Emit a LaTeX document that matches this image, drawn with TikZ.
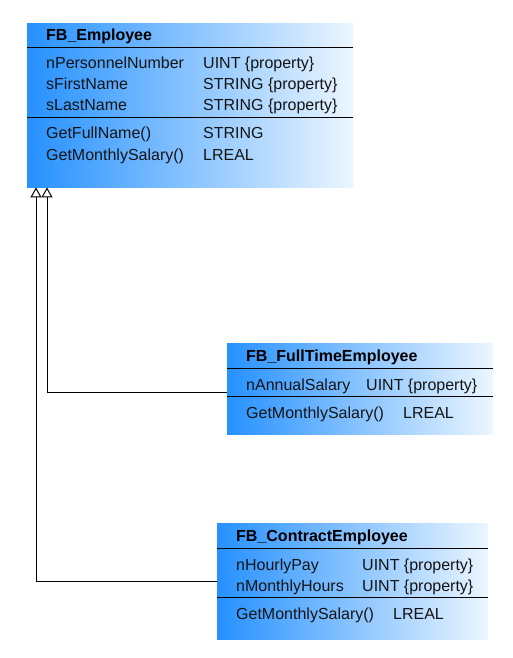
\documentclass[tikz,border=0pt]{standalone}
\usepackage{fontspec}
\setmainfont{Liberation Sans}
\usepackage{tikz}
\usetikzlibrary{positioning,calc,arrows.meta}
\definecolor{clsBlue}{RGB}{38,145,255}
\definecolor{clsLight}{RGB}{236,246,255}
\definecolor{txtColor}{RGB}{20,20,20}
\tikzset{
    classbox/.style={
        rectangle,
        anchor=north west,
        inner sep=0pt,
        left color=clsBlue,
        right color=clsLight,
        draw=none
    },
    member/.style={
        anchor=base west,
        inner sep=0pt,
        text=txtColor,
        font=\fontsize{16}{19}\selectfont
    },
    title/.style={
        member,
        font=\fontsize{16}{19}\selectfont\bfseries,
        text=black
    },
    sepline/.style={
        line width=1pt
    },
    inherit/.style={
        line width=1pt,
        -{Triangle[open, width=11pt, length=10pt]}
    }
}

\begin{document}
\begin{tikzpicture}[x=1pt, y=-1pt]
    \useasboundingbox (0,0) rectangle (512,658);

    % FB_Employee
    \node[classbox, minimum width=326pt, minimum height=164pt] (emp) at (27,23) {};
    \node[title] (empT) at (46,41) {FB\_Employee};
    \draw[sepline] (emp.west |- 0,48) -- (emp.east |- 0,48);
    \node[member] (empA1) at (46,69) {nPersonnelNumber};
    \node[member] (empA1t) at (203,69) {UINT \{property\}};
    \node[member] (empA2) at (46,90) {sFirstName};
    \node[member] (empA2t) at (203,90) {STRING \{property\}};
    \node[member] (empA3) at (46,111) {sLastName};
    \node[member] (empA3t) at (203,111) {STRING \{property\}};
    \draw[sepline] (emp.west |- 0,118) -- (emp.east |- 0,118);
    \node[member] (empM1) at (46,139) {GetFullName()};
    \node[member] (empM1t) at (203,139) {STRING};
    \node[member] (empM2) at (46,160) {GetMonthlySalary()};
    \node[member] (empM2t) at (203,160) {LREAL};

    % FB_FullTimeEmployee
    \node[classbox, minimum width=266pt, minimum height=91pt] (full) at (227,343) {};
    \node[title] (fullT) at (246,361) {FB\_FullTimeEmployee};
    \draw[sepline] (full.west |- 0,368) -- (full.east |- 0,368);
    \node[member] (fullA1) at (246,390) {nAnnualSalary};
    \node[member] (fullA1t) at (366,390) {UINT \{property\}};
    \draw[sepline] (full.west |- 0,396) -- (full.east |- 0,396);
    \node[member] (fullM1) at (246,418) {GetMonthlySalary()};
    \node[member] (fullM1t) at (403,418) {LREAL};

    % FB_ContractEmployee
    \node[classbox, minimum width=271pt, minimum height=116pt] (contr) at (217,523) {};
    \node[title] (contrT) at (236,541) {FB\_ContractEmployee};
    \draw[sepline] (contr.west |- 0,548) -- (contr.east |- 0,548);
    \node[member] (contrA1) at (236,570) {nHourlyPay};
    \node[member] (contrA1t) at (362,570) {UINT \{property\}};
    \node[member] (contrA2) at (236,591) {nMonthlyHours};
    \node[member] (contrA2t) at (362,591) {UINT \{property\}};
    \draw[sepline] (contr.west |- 0,597) -- (contr.east |- 0,597);
    \node[member] (contrM1) at (236,619) {GetMonthlySalary()};
    \node[member] (contrM1t) at (393,619) {LREAL};

    % Vererbung
    \draw[inherit] (contr.west) -| ([xshift=9pt]emp.south west);
    \draw[inherit] ([yshift=-4pt]full.west) -| ([xshift=20pt]emp.south west);
\end{tikzpicture}
\end{document}
